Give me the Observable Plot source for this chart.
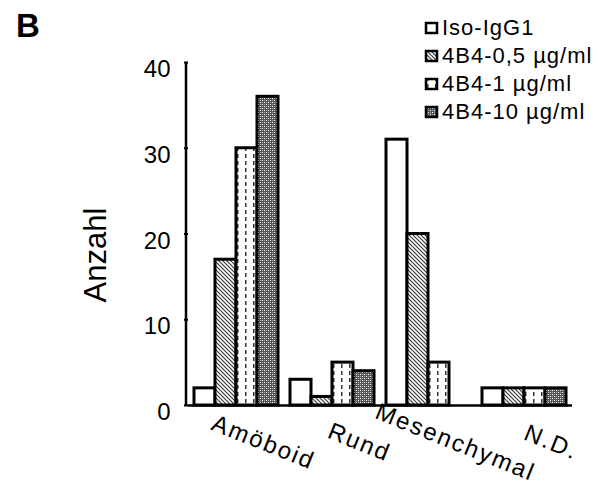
<!DOCTYPE html>
<html><head><meta charset="utf-8">
<script src="https://cdn.jsdelivr.net/npm/d3@7"></script>
<script src="https://cdn.jsdelivr.net/npm/@observablehq/plot@0.6"></script>
<style>
body{margin:0;background:#fff;}
#wrap{position:relative;width:599px;height:500px;font-family:"Liberation Sans",Arial,sans-serif;}
#overlay{position:absolute;left:0;top:0;pointer-events:none;}
</style></head><body>
<svg width="0" height="0" style="position:absolute">
<defs>
<pattern id="pHatch" width="4" height="4" patternUnits="userSpaceOnUse">
 <rect width="4" height="4" fill="#fff"/>
 <path d="M-1,-1L5,5M-1,3L1,5M3,-1L5,1" stroke="#333" stroke-width="1.1"/>
</pattern>
<pattern id="pDash" width="8" height="7" patternUnits="userSpaceOnUse">
 <rect width="8" height="7" fill="#fff"/>
 <rect x="3" y="0" width="1.5" height="4" fill="#333"/>
</pattern>
<pattern id="pDots" width="4" height="4" patternUnits="userSpaceOnUse">
 <rect width="4" height="4" fill="#555"/>
 <rect x="0" y="0" width="1" height="1" fill="#fff"/>
 <rect x="2" y="2" width="1" height="1" fill="#fff"/>
 <rect x="0" y="2" width="1" height="1" fill="#aaa"/>
 <rect x="2" y="0" width="1" height="1" fill="#aaa"/>
</pattern>
</defs></svg>
<div id="wrap"></div>
<script>
// ---- data ----
const categories = ["Amöboid", "Rund", "Mesenchymal", "N.D."];
const series = ["Iso-IgG1", "4B4-0,5 µg/ml", "4B4-1 µg/ml", "4B4-10 µg/ml"];
const isoIgG1 = [2, 3, 31, 2];
const b4_05 = [17, 1, 20, 2];
const b4_1 = [30, 5, 5, 2];
const b4_10 = [36, 4, 0, 2];
const yTicks = [0, 10, 20, 30, 40];
const yLabel = "Anzahl";
const panelLabel = "B";

// ---- styles ----
const fills = ["#fff", "url(#pHatch)", "url(#pDash)", "url(#pDots)"];
const font = '"Liberation Sans", Arial, sans-serif';

const values = [isoIgG1, b4_05, b4_1, b4_10];
const rows = [];
categories.forEach((c, i) => series.forEach((s, j) => rows.push({category: c, series: s, value: values[j][i]})));

const plot = Plot.plot({
  width: 599, height: 500,
  marginTop: 62, marginBottom: 95, marginLeft: 186, marginRight: 26,
  style: {fontFamily: font, fontSize: "24px", color: "#000", background: "#fff"},
  fx: {domain: categories, padding: 0, axis: null, label: null},
  x: {domain: series, paddingInner: 0, paddingOuter: 0.27, axis: null},
  y: {domain: [0, 40], axis: null},
  color: {type: "identity"},
  marks: [
    Plot.barY(rows.filter(d => d.value > 0), {
      fx: "category", x: "series", y: "value",
      fill: d => fills[series.indexOf(d.series)],
      stroke: "#000", strokeWidth: 3
    }),
    Plot.ruleY([0], {stroke: "#000", strokeWidth: 2.5}),
    Plot.axisY({ticks: yTicks, tickSize: 4, tickFormat: () => "", label: null, strokeWidth: 2}),
    Plot.axisY({ticks: yTicks, tickSize: 0, tickPadding: 18, dy: 7, label: null, fontSize: 24}),
    Plot.text(categories, {fx: d => d, text: d => d, frameAnchor: "bottom", rotate: 22,
      dx: 24, dy: 44, fontSize: 24, textAnchor: "middle", fill: "#000"})
  ]
});

d3.select(plot).selectAll('g[aria-label="text"] text').attr("letter-spacing", 2);

const y = plot.scale("y");
d3.select(plot).append("line")
  .attr("x1", 186).attr("x2", 186)
  .attr("y1", y.apply(0) + 1).attr("y2", y.apply(40))
  .attr("stroke", "#000").attr("stroke-width", 2.5);

const wrap = document.getElementById("wrap");
wrap.appendChild(plot);

// overlay: panel label, y label, legend
const ov = d3.select(wrap).append("svg").attr("id", "overlay")
  .attr("width", 599).attr("height", 500).style("font-family", font);

ov.append("text").attr("x", 16).attr("y", 37).attr("font-size", 33).attr("font-weight", "bold").text(panelLabel);

ov.append("text").attr("transform", "translate(95,255) rotate(-90)")
  .attr("text-anchor", "middle").attr("dominant-baseline", "central")
  .attr("font-size", 31).text(yLabel);

series.forEach((s, j) => {
  const base = 35 + j * 28;
  ov.append("rect").attr("x", 426).attr("y", base - 12).attr("width", 11).attr("height", 10)
    .attr("fill", fills[j]).attr("stroke", "#000").attr("stroke-width", 2.5);
  ov.append("text").attr("x", 442).attr("y", base).attr("font-size", 22)
    .attr("letter-spacing", 1).text(s);
});
</script>
</body></html>
